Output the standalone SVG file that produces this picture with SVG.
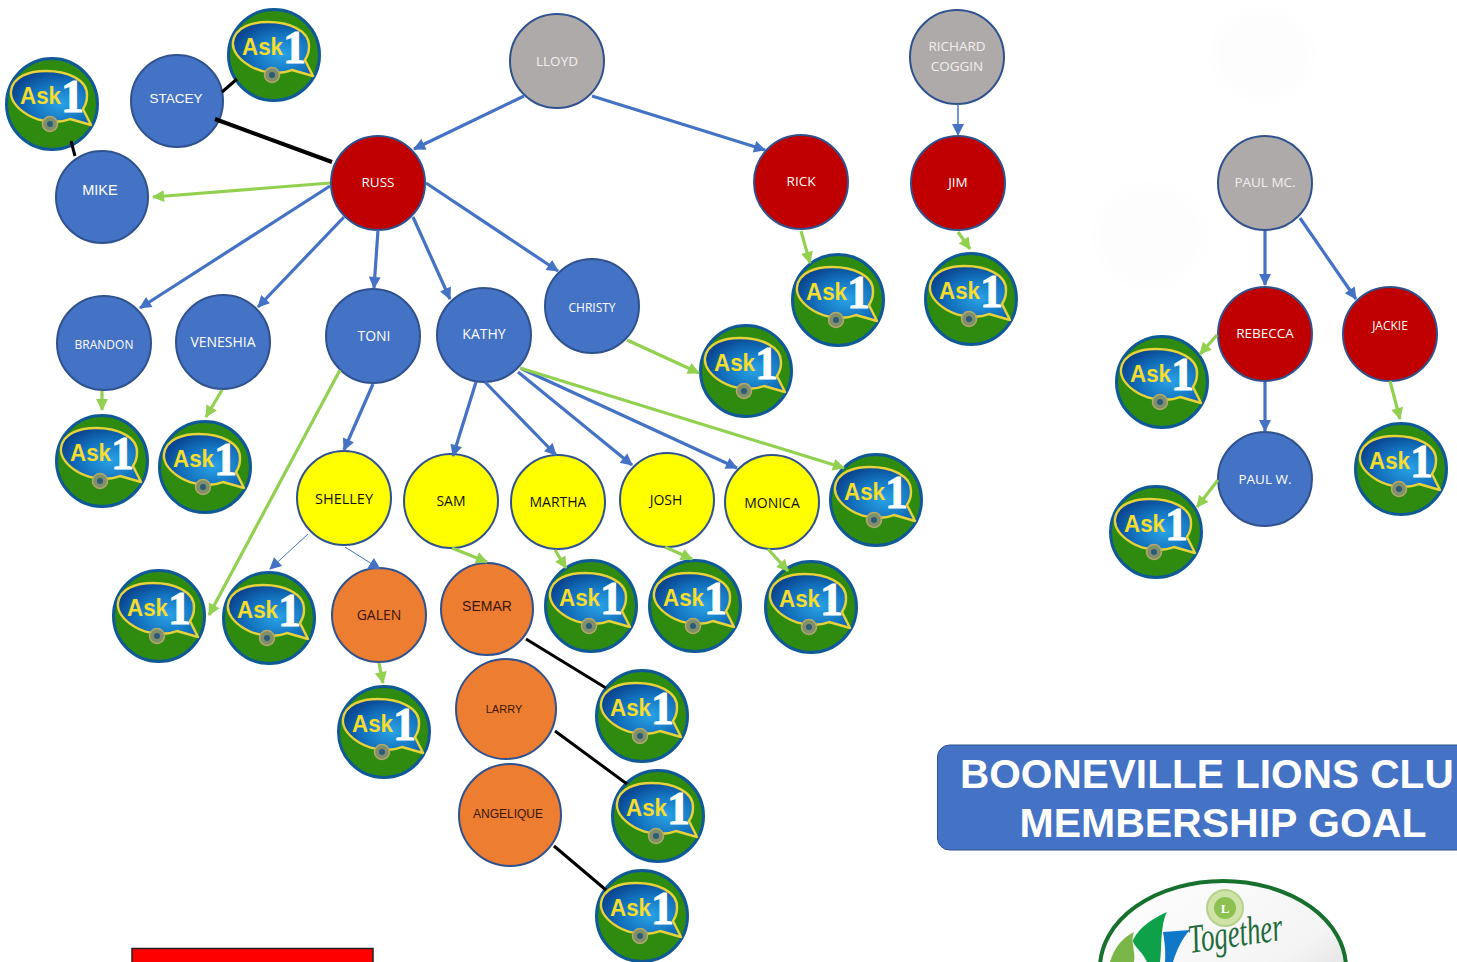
<svg xmlns="http://www.w3.org/2000/svg" width="1457" height="962" viewBox="0 0 1457 962">
<style>
text{text-anchor:middle;font-family:"Open Sans","Liberation Sans",sans-serif}
.n{stroke:#2f528f;stroke-width:2}
.blue{fill:#4472c4}.red{fill:#c00000}.gray{fill:#aeaaaa}.yel{fill:#ffff00}.org{fill:#ed7d31}
.tw{fill:#fff;font-size:13.5px}.tg{fill:#f2eeee;font-size:13.5px}.tk{fill:#111;font-size:14px}.to{fill:#3a1606;font-size:14px}
.sa{font-family:"Liberation Sans",sans-serif}
.ask{fill:#f6dc2c;font:bold 24px "Liberation Sans",sans-serif;text-anchor:start}
.one{fill:#fff;stroke:#fff;stroke-width:.9;font:bold 46px "Liberation Serif",serif}
.cb{fill:none;stroke:#4472c4;stroke-width:3.2;marker-end:url(#ab)}
.ct{fill:none;stroke:#4472c4;stroke-width:1;marker-end:url(#ab)}
.cg{fill:none;stroke:#92d050;stroke-width:3.2;marker-end:url(#ag)}
.ck{fill:none;stroke:#000;stroke-width:3}
</style>
<defs>
<filter id="soft" x="-30%" y="-30%" width="160%" height="160%"><feGaussianBlur stdDeviation="8"/></filter>
<marker id="ab" markerUnits="userSpaceOnUse" markerWidth="14" markerHeight="14" refX="12" refY="7" orient="auto"><path d="M1 1L13 7L1 13Z" fill="#4472c4"/></marker>
<marker id="ag" markerUnits="userSpaceOnUse" markerWidth="14" markerHeight="14" refX="12" refY="7" orient="auto"><path d="M1 1L13 7L1 13Z" fill="#92d050"/></marker>
<radialGradient id="bub" cx=".62" cy=".6" r=".65"><stop offset="0" stop-color="#2aa3e6"/><stop offset=".6" stop-color="#1270bc"/><stop offset="1" stop-color="#0b4590"/></radialGradient>
<linearGradient id="logo" x1="0" y1="0" x2="1" y2="1"><stop offset="0" stop-color="#fff"/><stop offset=".6" stop-color="#f4f4f4"/><stop offset="1" stop-color="#c9c9c9"/></linearGradient>
<g id="badge">
<circle r="45.5" fill="#2f8a10" stroke="#0f5a96" stroke-width="3"/>
<path d="M39 21L18 15C6 20-12 18-24 11C-36 4-42-5-41-13C-39-28-22-33-6-33C14-33 36-25 35-8C35-3 33 2 31 5Z" fill="url(#bub)" stroke="#e8d23a" stroke-width="2.4" stroke-linejoin="round"/>
<circle cx="-2" cy="20" r="7.5" fill="#7f8f6a" stroke="#b5a86a" stroke-width="1.5"/>
<circle cx="-2" cy="20" r="3" fill="#2c5a78"/>
</g>
</defs>
<rect width="1457" height="962" fill="#fff"/>
<ellipse cx="1263" cy="55" rx="50" ry="45" fill="#fdfdfd" filter="url(#soft)"/>
<ellipse cx="1150" cy="235" rx="55" ry="50" fill="#fdfdfd" filter="url(#soft)"/>

<g id="nodes">
<g id="n-lloyd"><circle class="n gray" cx="557" cy="61" r="47"/><text class="tg" x="557" y="66">LLOYD</text></g>
<g id="n-richard"><circle class="n gray" cx="957" cy="57" r="47"/><text class="tg" x="957" y="51">RICHARD</text><text class="tg" x="957" y="71">COGGIN</text></g>
<g id="n-russ"><circle class="n red" cx="378" cy="183" r="47"/><text class="tw" x="378" y="187">RUSS</text></g>
<g id="n-rick"><circle class="n red" cx="801" cy="182" r="47"/><text class="tw" x="801" y="186">RICK</text></g>
<g id="n-jim"><circle class="n red" cx="958" cy="183" r="47"/><text class="tw" x="958" y="187">JIM</text></g>
<g id="n-paulmc"><circle class="n gray" cx="1265" cy="183" r="47"/><text class="tg" x="1265" y="187">PAUL MC.</text></g>
<g id="n-stacey"><circle class="n blue" cx="177" cy="101" r="46"/><text class="tw sa" x="176" y="103">STACEY</text></g>
<g id="n-mike"><circle class="n blue" cx="102" cy="197" r="46"/><text class="tw sa" x="100" y="195" style="font-size:14.5px">MIKE</text></g>
<g id="n-brandon"><circle class="n blue" cx="104" cy="343" r="47"/><text class="tw" style="font-size:12px" x="104" y="349">BRANDON</text></g>
<g id="n-veneshia"><circle class="n blue" cx="223" cy="342" r="47"/><text class="tw" x="223" y="347" style="font-size:14px">VENESHIA</text></g>
<g id="n-toni"><circle class="n blue" cx="373" cy="336" r="47"/><text class="tw" x="374" y="341" style="font-size:14px">TONI</text></g>
<g id="n-kathy"><circle class="n blue" cx="484" cy="335" r="47"/><text class="tw" x="484" y="339" style="font-size:14px">KATHY</text></g>
<g id="n-christy"><circle class="n blue" cx="592" cy="306" r="47"/><text class="tw" style="font-size:12px" x="592" y="312">CHRISTY</text></g>
<g id="n-shelley"><circle class="n yel" cx="344" cy="498" r="47"/><text class="tk" x="344" y="504" style="font-size:14.5px">SHELLEY</text></g>
<g id="n-sam"><circle class="n yel" cx="451" cy="501" r="47"/><text class="tk" x="451" y="506">SAM</text></g>
<g id="n-martha"><circle class="n yel" cx="558" cy="502" r="47"/><text class="tk" x="558" y="507">MARTHA</text></g>
<g id="n-josh"><circle class="n yel" cx="667" cy="500" r="47"/><text class="tk" x="666" y="505">JOSH</text></g>
<g id="n-monica"><circle class="n yel" cx="772" cy="502" r="47"/><text class="tk" x="772" y="508">MONICA</text></g>
<g id="n-galen"><circle class="n org" cx="379" cy="615" r="47"/><text class="to" x="379" y="620">GALEN</text></g>
<g id="n-semar"><circle class="n org" cx="487" cy="609" r="46"/><text class="to sa" x="487" y="611">SEMAR</text></g>
<g id="n-larry"><circle class="n org" cx="506" cy="709" r="50"/><text class="to sa" style="font-size:11px" x="504" y="713">LARRY</text></g>
<g id="n-angelique"><circle class="n org" cx="510" cy="815" r="51"/><text class="to sa" style="font-size:12px" x="508" y="818">ANGELIQUE</text></g>
<g id="n-rebecca"><circle class="n red" cx="1265" cy="334" r="47"/><text class="tw" x="1265" y="338">REBECCA</text></g>
<g id="n-jackie"><circle class="n red" cx="1390" cy="334" r="47"/><text class="tw" style="font-size:12px" x="1390" y="330">JACKIE</text></g>
<g id="n-paulw"><circle class="n blue" cx="1265" cy="479" r="47"/><text class="tw" x="1265" y="484">PAUL W.</text></g>
</g>

<g id="badges">
<g id="b1" transform="translate(274 55)"><use href="#badge"/><text class="ask" x="-32" y="0" textLength="41" lengthAdjust="spacingAndGlyphs">Ask</text><text class="one" x="20.500" y="8">1</text></g>
<g id="b2" transform="translate(52 104)"><use href="#badge"/><text class="ask" x="-32" y="0" textLength="41" lengthAdjust="spacingAndGlyphs">Ask</text><text class="one" x="20.500" y="8">1</text></g>
<g id="b3" transform="translate(838 300)"><use href="#badge"/><text class="ask" x="-32" y="0" textLength="41" lengthAdjust="spacingAndGlyphs">Ask</text><text class="one" x="20.500" y="8">1</text></g>
<g id="b4" transform="translate(971 299)"><use href="#badge"/><text class="ask" x="-32" y="0" textLength="41" lengthAdjust="spacingAndGlyphs">Ask</text><text class="one" x="20.500" y="8">1</text></g>
<g id="b5" transform="translate(746 371)"><use href="#badge"/><text class="ask" x="-32" y="0" textLength="41" lengthAdjust="spacingAndGlyphs">Ask</text><text class="one" x="20.500" y="8">1</text></g>
<g id="b6" transform="translate(102 461)"><use href="#badge"/><text class="ask" x="-32" y="0" textLength="41" lengthAdjust="spacingAndGlyphs">Ask</text><text class="one" x="20.500" y="8">1</text></g>
<g id="b7" transform="translate(205 467)"><use href="#badge"/><text class="ask" x="-32" y="0" textLength="41" lengthAdjust="spacingAndGlyphs">Ask</text><text class="one" x="20.500" y="8">1</text></g>
<g id="b8" transform="translate(876 500)"><use href="#badge"/><text class="ask" x="-32" y="0" textLength="41" lengthAdjust="spacingAndGlyphs">Ask</text><text class="one" x="20.500" y="8">1</text></g>
<g id="b9" transform="translate(159 616)"><use href="#badge"/><text class="ask" x="-32" y="0" textLength="41" lengthAdjust="spacingAndGlyphs">Ask</text><text class="one" x="20.500" y="8">1</text></g>
<g id="b10" transform="translate(269 618)"><use href="#badge"/><text class="ask" x="-32" y="0" textLength="41" lengthAdjust="spacingAndGlyphs">Ask</text><text class="one" x="20.500" y="8">1</text></g>
<g id="b11" transform="translate(591 606)"><use href="#badge"/><text class="ask" x="-32" y="0" textLength="41" lengthAdjust="spacingAndGlyphs">Ask</text><text class="one" x="20.500" y="8">1</text></g>
<g id="b12" transform="translate(695 606)"><use href="#badge"/><text class="ask" x="-32" y="0" textLength="41" lengthAdjust="spacingAndGlyphs">Ask</text><text class="one" x="20.500" y="8">1</text></g>
<g id="b13" transform="translate(811 607)"><use href="#badge"/><text class="ask" x="-32" y="0" textLength="41" lengthAdjust="spacingAndGlyphs">Ask</text><text class="one" x="20.500" y="8">1</text></g>
<g id="b14" transform="translate(384 732)"><use href="#badge"/><text class="ask" x="-32" y="0" textLength="41" lengthAdjust="spacingAndGlyphs">Ask</text><text class="one" x="20.500" y="8">1</text></g>
<g id="b15" transform="translate(642 716)"><use href="#badge"/><text class="ask" x="-32" y="0" textLength="41" lengthAdjust="spacingAndGlyphs">Ask</text><text class="one" x="20.500" y="8">1</text></g>
<g id="b16" transform="translate(658 816)"><use href="#badge"/><text class="ask" x="-32" y="0" textLength="41" lengthAdjust="spacingAndGlyphs">Ask</text><text class="one" x="20.500" y="8">1</text></g>
<g id="b17" transform="translate(642 916)"><use href="#badge"/><text class="ask" x="-32" y="0" textLength="41" lengthAdjust="spacingAndGlyphs">Ask</text><text class="one" x="20.500" y="8">1</text></g>
<g id="b18" transform="translate(1162 382)"><use href="#badge"/><text class="ask" x="-32" y="0" textLength="41" lengthAdjust="spacingAndGlyphs">Ask</text><text class="one" x="20.500" y="8">1</text></g>
<g id="b19" transform="translate(1156 532)"><use href="#badge"/><text class="ask" x="-32" y="0" textLength="41" lengthAdjust="spacingAndGlyphs">Ask</text><text class="one" x="20.500" y="8">1</text></g>
<g id="b20" transform="translate(1401 469)"><use href="#badge"/><text class="ask" x="-32" y="0" textLength="41" lengthAdjust="spacingAndGlyphs">Ask</text><text class="one" x="20.500" y="8">1</text></g>
</g>

<g id="connectors">
<path class="cb" d="M524 96L414 149"/>
<path class="cb" d="M592 96L765 150"/>
<path class="ct" style="stroke-width:1.5" d="M958 104L958 135"/>
<path class="cb" d="M330 186L140 308"/>
<path class="cb" d="M344 217L258 307"/>
<path class="cb" d="M378 230L374 288"/>
<path class="cb" d="M413 217L450 299"/>
<path class="cb" d="M426 183L558 271"/>
<path class="cb" d="M373 384L344 450"/>
<path class="cb" d="M476 382L453 456"/>
<path class="cb" d="M485 382L556 455"/>
<path class="cb" d="M518 372L632 465"/>
<path class="cb" d="M522 369L737 468"/>
<path class="ct" d="M308 534L270 569"/>
<path class="ct" d="M345 547L380 569"/>
<path class="cb" d="M1265 231L1265 285"/>
<path class="cb" d="M1300 218L1356 299"/>
<path class="cb" d="M1265 382L1265 431"/>
<path class="cg" d="M340 370L209 615"/>
<path class="cg" d="M520 368L844 468"/>
<path class="cg" d="M452 548L487 562"/>
<path class="cg" d="M555 550L566 568"/>
<path class="cg" d="M665 547L692 559"/>
<path class="cg" d="M768 549L788 571"/>
<path class="cg" d="M379 663L383 683"/>
<path class="cg" d="M801 231L810 263"/>
<path class="cg" d="M958 232L970 249"/>
<path class="cg" d="M627 340L699 373"/>
<path class="cg" d="M102 391L102 410"/>
<path class="cg" d="M222 390L206 417"/>
<path class="cg" d="M330 183L153 197"/>
<path class="cg" d="M1217 335L1200 354"/>
<path class="cg" d="M1218 480L1197 507"/>
<path class="cg" d="M1390 381L1400 419"/>
<path class="ck" d="M222 92L237 79"/>
<path class="ck" style="stroke-width:4" d="M215 119L332 162"/>
<path class="ck" d="M71 141L75 156"/>
<path class="ck" d="M526 639L606 688"/>
<path class="ck" d="M555 731L627 784"/>
<path class="ck" d="M554 846L606 890"/>
</g>

<g id="title">
<rect x="937.500" y="745" width="540" height="105" rx="12" fill="#4472c4" stroke="#2f528f"/>
<text x="960" y="788" style="text-anchor:start;font:bold 40.6px 'Liberation Sans',sans-serif" fill="#fff">BOONEVILLE LIONS CLU</text>
<text x="1223" y="837" style="font:bold 41px 'Liberation Sans',sans-serif" fill="#fff">MEMBERSHIP GOAL</text>
</g>

<g id="logo-mark">
<ellipse cx="1223" cy="968" rx="123" ry="87" fill="url(#logo)" stroke="#17702e" stroke-width="4"/>
<circle cx="1225" cy="908" r="18" fill="#cfe3a8" stroke="#b5d38a" stroke-width="2"/>
<circle cx="1225" cy="908" r="11" fill="#8cc152"/>
<text x="1225" y="913" style="font:bold 13px 'Liberation Serif',serif" fill="#fff">L</text>
<path d="M1110 962C1114 948 1122 938 1134 932C1130 942 1136 952 1134 962Z" fill="#7ab648"/>
<path d="M1147 962C1143 952 1132 945 1133 940C1140 926 1154 918 1167 912C1160 925 1162 950 1160 962Z" fill="#0fa14a"/>
<path d="M1165 962C1166 950 1164 938 1163 932L1190 930C1182 938 1176 952 1173 962Z" fill="#0f78c8"/>
<text transform="translate(1190 953) rotate(-8) scale(1 1.5)" style="text-anchor:start;font:italic 27px 'Liberation Serif',serif" fill="#1f6b3a">Together</text>
</g>

<g id="red-box"><rect x="132" y="948.500" width="241" height="40" fill="#ff0000" stroke="#222" stroke-width="1.500"/></g>
</svg>
